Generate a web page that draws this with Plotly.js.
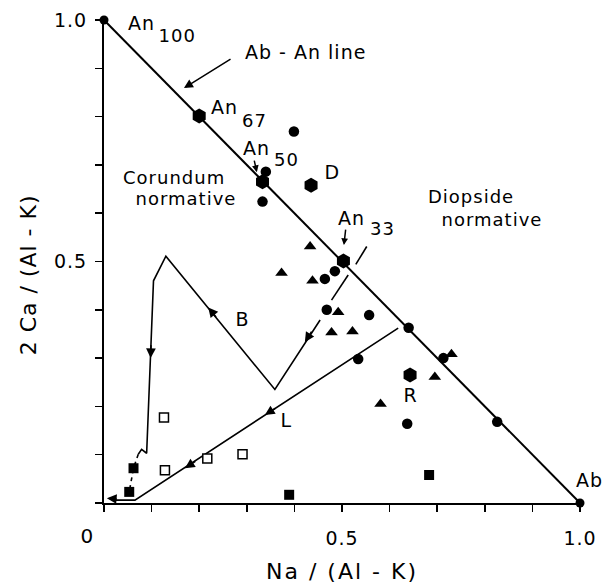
<!DOCTYPE html>
<html>
<head>
<meta charset="utf-8">
<script src="https://cdn.plot.ly/plotly-3.0.1.min.js"></script>
<style>
html,body{margin:0;padding:0;background:#fff;}
#chart .annotation-text{letter-spacing:1px;}
#chart .xtitle{letter-spacing:2px;}
#chart .xtick text, #chart .ytick text{letter-spacing:1px;}
</style>
</head>
<body>
<div id="chart" style="width:604px;height:585px;"></div>
<script>
// ---- data ----
// Ab–An join
const abAnX = [0, 1];
const abAnY = [1, 0];

// filled circles
const dotX = [0.340, 0.399, 0.333, 0.464, 0.485, 0.468, 0.557, 0.534, 0.640, 0.637, 0.826, 0.713];
const dotY = [0.686, 0.769, 0.624, 0.464, 0.480, 0.400, 0.389, 0.298, 0.363, 0.164, 0.168, 0.300];

// end-member points (An100, Ab)
const endX = [0, 1];
const endY = [1, 0];

// large hexagons: An67, An50, An33, D, R
const hexX = [0.200, 0.333, 0.503, 0.435, 0.643];
const hexY = [0.801, 0.665, 0.501, 0.658, 0.265];

// triangles
const triX = [0.433, 0.373, 0.438, 0.492, 0.478, 0.522, 0.695, 0.581, 0.730];
const triY = [0.531, 0.476, 0.460, 0.395, 0.353, 0.355, 0.261, 0.205, 0.308];

// filled squares
const sqX = [0.062, 0.053, 0.389, 0.683];
const sqY = [0.072, 0.023, 0.017, 0.058];

// open squares
const osqX = [0.126, 0.128, 0.217, 0.291];
const osqY = [0.177, 0.068, 0.092, 0.101];

// trend B (with small gaps)
const bX = [0.552, 0.529, null, 0.513, 0.478, null, 0.454, 0.359, 0.130, 0.104, 0.0896, 0.079, 0.072];
const bY = [0.531, 0.494, null, 0.472, 0.420, null, 0.379, 0.235, 0.511, 0.460, 0.103, 0.111, 0.101];

// dashed continuation of B
const bDashX = [0.072, 0.062, 0.053];
const bDashY = [0.101, 0.072, 0.023];

// trend L
const lX = [0.618, 0.065, 0.016];
const lY = [0.362, 0.006, 0.006];

// direction arrows: head and tail
const arrHeadX = [0.219, 0.098, 0.422, 0.338, 0.170, 0.006, 0.168, 0.321, 0.504];
const arrHeadY = [0.405, 0.300, 0.333, 0.182, 0.072, 0.010, 0.859, 0.685, 0.534];
const arrTailX = [0.238, 0.099, 0.438, 0.363, 0.195, 0.030, 0.269, 0.315, 0.508];
const arrTailY = [0.382, 0.330, 0.358, 0.198, 0.088, 0.008, 0.921, 0.712, 0.569];
const arrSize  = [1.3, 1.3, 1.3, 1.3, 1.3, 1.3, 1.2, 0.9, 0.9];

// text labels inside the plot (data coordinates)
const labelText = ['An', '100', 'Ab - An line', 'An', '67', 'An', '50', 'D',
  'Corundum', 'normative', 'Diopside', 'normative', 'An', '33', 'B', 'L', 'R'];
const labelX = [0.078, 0.153, 0.424, 0.254, 0.317, 0.321, 0.384, 0.481,
  0.147, 0.172, 0.771, 0.815, 0.519, 0.586, 0.290, 0.384, 0.643];
const labelY = [0.994, 0.967, 0.934, 0.820, 0.791, 0.735, 0.712, 0.685,
  0.673, 0.630, 0.635, 0.588, 0.590, 0.569, 0.381, 0.172, 0.224];
const labelSize = [19, 18, 19, 19, 18, 19, 18, 19, 18, 18, 18, 18, 19, 18, 19, 19, 19];

// labels outside the axis range (paper coordinates of the plot area)
const outText = ['Ab', '0'];
const outX = [1.019, -0.034];
const outY = [0.048, -0.068];
const outSize = [19, 20];

// axis ticks and titles
const tickVals = [0, 0.1, 0.2, 0.3, 0.4, 0.5, 0.6, 0.7, 0.8, 0.9, 1.0];
const tickText = ['', '', '', '', '', '0.5', '', '', '', '', '1.0'];
const xTitle = 'Na / (Al - K)';
const yTitle = '2 Ca / (Al - K)';

const FONT = 'DejaVu Sans, Liberation Sans, sans-serif';

const traces = [
  {x: abAnX, y: abAnY, mode: 'lines', line: {color: 'black', width: 2}, hoverinfo: 'skip'},
  {x: bX, y: bY, mode: 'lines', line: {color: 'black', width: 1.6}, connectgaps: false, hoverinfo: 'skip'},
  {x: bDashX, y: bDashY, mode: 'lines', line: {color: 'black', width: 1.6, dash: '4px,4px'}, hoverinfo: 'skip'},
  {x: lX, y: lY, mode: 'lines', line: {color: 'black', width: 1.6}, hoverinfo: 'skip'},
  {x: dotX, y: dotY, mode: 'markers', marker: {symbol: 'circle', size: 10.5, color: 'black'}},
  {x: endX, y: endY, mode: 'markers', marker: {symbol: 'circle', size: 9, color: 'black'}},
  {x: hexX, y: hexY, mode: 'markers', marker: {symbol: 'hexagon', size: 15, color: 'black'}},
  {x: triX, y: triY, mode: 'markers', marker: {symbol: 'triangle-up', size: 11, color: 'black'}},
  {x: sqX, y: sqY, mode: 'markers', marker: {symbol: 'square', size: 10, color: 'black'}},
  {x: osqX, y: osqY, mode: 'markers', marker: {symbol: 'square', size: 9, color: 'white', line: {color: 'black', width: 1.5}}}
].map(t => Object.assign({type: 'scatter', cliponaxis: false, showlegend: false}, t));

const annotations = [];
for (let i = 0; i < arrHeadX.length; i++) {
  annotations.push({
    x: arrHeadX[i], y: arrHeadY[i], ax: arrTailX[i], ay: arrTailY[i],
    xref: 'x', yref: 'y', axref: 'x', ayref: 'y',
    text: '', showarrow: true, arrowhead: 2, arrowsize: arrSize[i], arrowwidth: 1.5,
    arrowcolor: 'black', standoff: 0, startstandoff: 0
  });
}
for (let i = 0; i < labelText.length; i++) {
  annotations.push({
    x: labelX[i], y: labelY[i], xref: 'x', yref: 'y', text: labelText[i],
    showarrow: false, xanchor: 'center', yanchor: 'middle',
    font: {family: FONT, size: labelSize[i], color: 'black'}
  });
}
for (let i = 0; i < outText.length; i++) {
  annotations.push({
    x: outX[i], y: outY[i], xref: 'paper', yref: 'paper', text: outText[i],
    showarrow: false, xanchor: 'center', yanchor: 'middle',
    font: {family: FONT, size: outSize[i], color: 'black'}
  });
}
// y-axis title
annotations.push({
  x: -0.160, y: 0.472, xref: 'paper', yref: 'paper', text: yTitle, textangle: -90,
  showarrow: false, xanchor: 'center', yanchor: 'middle',
  font: {family: FONT, size: 22, color: 'black'}
});

const axisCommon = {
  range: [0, 1], showgrid: false, zeroline: false, showline: true,
  linecolor: 'black', linewidth: 2, ticks: 'outside', ticklen: 7, tickwidth: 1.5,
  tickcolor: 'black', tickmode: 'array', tickvals: tickVals, ticktext: tickText,
  tickfont: {family: FONT, size: 19, color: 'black'}, fixedrange: true
};

const layout = {
  width: 604, height: 585,
  margin: {l: 104, r: 24, t: 20, b: 82},
  paper_bgcolor: 'white', plot_bgcolor: 'white',
  showlegend: false,
  font: {family: FONT, color: 'black'},
  xaxis: Object.assign({}, axisCommon, {
    ticklabelstandoff: 10,
    title: {text: xTitle, font: {family: FONT, size: 22, color: 'black'}, standoff: 16}
  }),
  yaxis: Object.assign({}, axisCommon, {
    ticklabelstandoff: 4
  }),
  annotations: annotations
};

Plotly.newPlot('chart', traces, layout, {displayModeBar: false, staticPlot: true});
</script>
</body>
</html>
